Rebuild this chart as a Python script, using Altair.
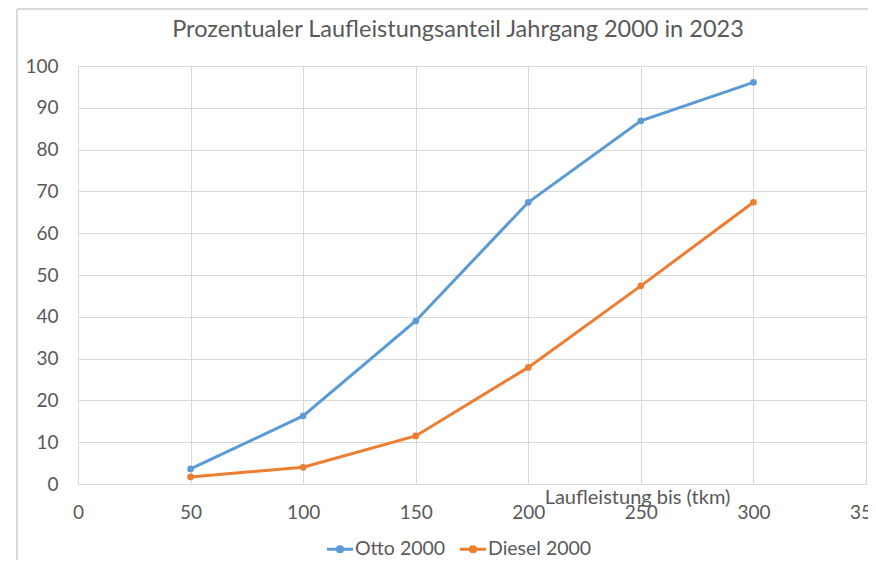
import altair as alt
import pandas as pd

km = [50, 100, 150, 200, 250, 300]
otto = [3.6, 16.3, 39.0, 67.4, 86.9, 96.1]
diesel = [1.7, 4.0, 11.5, 27.9, 47.4, 67.4]
series = ["Otto 2000", "Diesel 2000"]
colors = ["#5B9BD5", "#ED7D31"]

rows = []
for k, o, d in zip(km, otto, diesel):
    rows.append({"km": k, "wert": o, "serie": series[0]})
    rows.append({"km": k, "wert": d, "serie": series[1]})
df = pd.DataFrame(rows)

FONT = "Lato"
GREY = "#595959"

legend_path = ("M-1,0L1,0 M0.2,0 A0.2,0.2 0 1 1 -0.2,0 "
               "A0.2,0.2 0 1 1 0.2,0 Z")

color = alt.Color(
    "serie:N",
    scale=alt.Scale(domain=series, range=colors),
    legend=alt.Legend(
        title=None, orient="none", direction="horizontal",
        legendX=247, legendY=468,
        symbolType=legend_path, symbolSize=680, symbolStrokeWidth=3,
        labelFont=FONT, labelFontSize=19.5, labelColor=GREY,
        columnPadding=7, labelOffset=0,
    ),
    sort=series,
)

x = alt.X(
    "km:Q",
    scale=alt.Scale(domain=[0, 350], nice=False),
    axis=alt.Axis(
        values=[0, 50, 100, 150, 200, 250, 300, 350],
        title="Laufleistung bis (tkm)", titleX=559, titleY=3,
        titleAlign="center", titleBaseline="top",
        titleFont=FONT, titleFontSize=20, titleFontWeight="normal",
        titleColor=GREY, labelPadding=19, labelFlush=False,
    ),
)
y = alt.Y(
    "wert:Q",
    scale=alt.Scale(domain=[0, 100], nice=False),
    axis=alt.Axis(values=list(range(0, 101, 10)), title=None, labelPadding=20,
                  labelFlush=False),
)

lines = alt.Chart(df).mark_line(strokeWidth=3, interpolate="linear").encode(
    x=x, y=y, color=color
)
points = alt.Chart(df).mark_point(filled=True, size=45, opacity=1).encode(
    x="km:Q", y="wert:Q", color=alt.Color("serie:N", sort=series, legend=None,
                                          scale=alt.Scale(domain=series, range=colors))
)
border = alt.Chart(df).mark_rect(fill=None, stroke="#d9d9d9", strokeWidth=1, clip=False).encode(
    x=alt.value(-61), x2=alt.value(900), y=alt.value(-57), y2=alt.value(600)
)

chart = alt.layer(border, lines, points).properties(
    width=788, height=418,
    title=alt.TitleParams(
        "Prozentualer Laufleistungsanteil Jahrgang 2000 in 2023",
        font=FONT, fontSize=23.5, fontWeight="normal", color=GREY,
        anchor="middle", dx=-14, offset=-52, baseline="alphabetic",
    ),
    autosize=alt.AutoSizeParams(type="none"),
    padding={"left": 70, "top": 58, "right": 2, "bottom": 76},
).configure_axis(
    labelFont=FONT, labelFontSize=19, labelColor=GREY,
    grid=True, gridColor="#d9d9d9", gridWidth=1,
    domain=False, ticks=False,
).configure_view(stroke="#d9d9d9", strokeWidth=1)

chart.save("out.html", embed_options={"renderer": "svg", "actions": False})
